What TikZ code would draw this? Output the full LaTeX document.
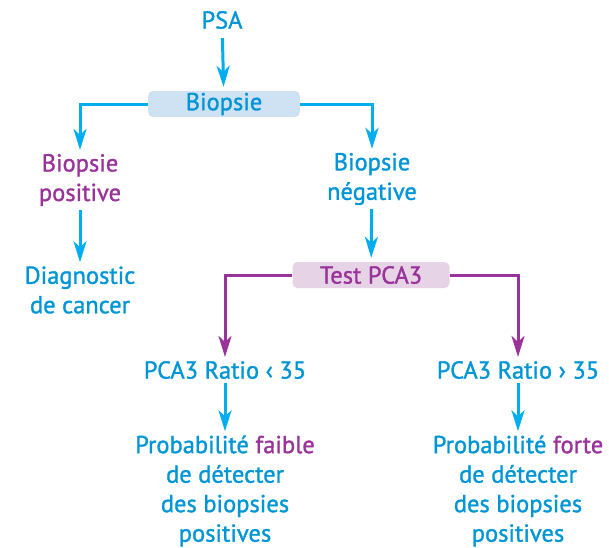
\documentclass[tikz,border=0pt]{standalone}
\usepackage{fontspec}
\setmainfont{PT Sans}[UprightFeatures={FakeBold=1.2}]
\usetikzlibrary{arrows.meta}
\definecolor{txtblue}{HTML}{0096D6}
\definecolor{lineblue}{HTML}{00AEEF}
\definecolor{prpl}{HTML}{993399}
\definecolor{boxblue}{HTML}{CFE2F3}
\definecolor{boxprpl}{HTML}{E6D3E6}

\begin{document}
\begin{tikzpicture}[x = 1pt, y = -1pt,
	txt/.style = {font=\fontsize{24.5}{29.5}\selectfont, align=center, inner sep=0pt, text=txtblue},
	stagebox/.style = {txt, rounded corners=5pt, minimum height=26pt},
	barrow/.style = {draw=lineblue, line width=3pt, -{Stealth[length=21pt, width=13pt, inset=6pt]}, shorten <=4pt, shorten >=4pt},
	parrow/.style = {barrow, draw=prpl}]
	\useasboundingbox (0,0) rectangle (609,547);
	% top of the tree
	\node[txt] (psa) at (222,20) {PSA};
	\node[stagebox, fill=boxblue, minimum width=152pt] (biopsie) at (224,104) {Biopsie};
	\node[txt, text=prpl] (bpos) at (80,180) {Biopsie\\positive};
	\node[txt] (bneg) at (372,179) {Biopsie\\négative};
	\node[txt] (diag) at (80,290) {Diagnostic\\de cancer};
	\node[stagebox, fill=boxprpl, text=prpl, minimum width=157pt] (test) at (371,275) {Test PCA3};
	% PCA3 results
	\node[txt] (rlow) at (225,370) {PCA3 Ratio ‹ 35};
	\node[txt] (rhigh) at (518,370) {PCA3 Ratio › 35};
	\node[txt] (plow) at (225,491) {Probabilité \textcolor{prpl}{faible}\\de détecter\\des biopsies\\positives};
	\node[txt] (phigh) at (518,491) {Probabilité \textcolor{prpl}{forte}\\de détecter\\des biopsies\\positives};
	% connectors
	\draw[barrow, shorten <=9pt] (psa) -- (biopsie);
	\draw[barrow, shorten <=0pt] (biopsie.west) -| (bpos.north);
	\draw[barrow, shorten <=0pt] (biopsie.east) -| (bneg.north);
	\draw[barrow] (bpos) -- (diag);
	\draw[barrow] (bneg) -- (test);
	\draw[parrow, shorten <=0pt] (test.west) -| (rlow.north);
	\draw[parrow, shorten <=0pt] (test.east) -| (rhigh.north);
	\draw[barrow] (rlow) -- (plow);
	\draw[barrow] (rhigh) -- (phigh);
\end{tikzpicture}
\end{document}
